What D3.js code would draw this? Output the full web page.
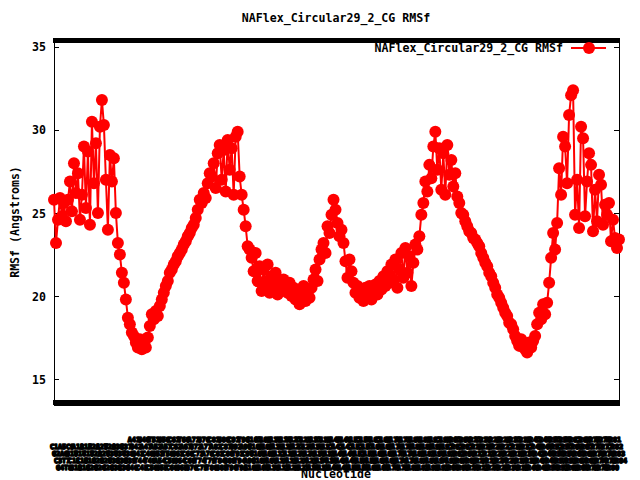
<!DOCTYPE html>
<html>
<head>
<meta charset="utf-8">
<script src="https://cdn.jsdelivr.net/npm/d3@7"></script>
<style>
  html, body { margin: 0; padding: 0; background: #fff; }
  svg { display: block; }
  text { font-family: "DejaVu Sans Mono", "Liberation Mono", monospace; font-weight: bold; fill: #000; }
</style>
</head>
<body>
<svg id="chart" width="640" height="480"></svg>
<script>
// ---------------- data ----------------
const chartTitle = "NAFlex_Circular29_2_CG RMSf";
const seriesName = "NAFlex_Circular29_2_CG RMSf";
const xTitle = "Nucleotide";
const yTitle = "RMSf (Angstroms)";

const sequence = (
  "CGCGAATTCGCGATCGATGCATGCAAGCTTGCATGCCTGCAGGTCGACTCTAGAGGATCCCCGGGTACCGAGCTCGAATTCACTGGCCGTCGTTTTACAA" +
  "CGTCGTGACTGGGAAAACCCTGGCGTTACCCAACTTAATCGCCTTGCAGCACATCCCCCTTTCGCCAGCTGGCGTAATAGCGAAGAGGCCCGCACCGATC" +
  "GCCCTTCCCAACAGTTGCGCAGCCTGAATGGCGAATGGCGCCTGATGCGGTATTTTCTCCTTACGCATCTGTGCGGTATTTCAC").split("");
const nucleotideLabels = sequence.map((b, i) => b + (i + 1));

const rmsf = [
  25.8, 23.2, 24.6, 25.9, 24.8, 25.6, 24.5, 25.8, 26.9, 25.1,
  28.0, 26.2, 27.4, 24.6, 26.1, 29.0, 25.3, 28.7, 24.3, 30.5,
  26.8, 29.2, 25.0, 30.2, 31.8, 30.3, 27.0, 24.0, 28.5, 26.9,
  28.3, 25.0, 23.2, 22.5, 21.4, 20.8, 19.8, 18.7, 18.3, 17.8,
  17.6, 17.2, 16.9, 17.4, 16.8, 17.1, 16.9, 17.5, 18.2, 18.9,
  18.6, 19.1, 18.8, 19.4, 19.8, 20.2, 20.6, 20.9, 21.4, 21.6,
  21.9, 22.1, 22.4, 22.6, 22.8, 23.1, 23.3, 23.6, 23.8, 24.1,
  24.3, 24.7, 25.2, 25.8, 25.6, 26.2, 25.9, 26.8, 27.4, 27.2,
  28.0, 26.5, 28.6, 29.1, 27.0, 28.8, 26.3, 29.4, 27.6, 28.9,
  26.1, 29.6, 29.9, 27.2, 26.1, 25.2, 24.2, 23.0, 22.8, 22.3,
  21.5, 22.6, 20.9, 21.8, 20.3, 21.6, 20.7, 21.9, 20.2, 21.2,
  20.5, 21.4, 20.1, 20.9, 20.4, 21.0, 20.6, 20.2, 20.8, 20.0,
  20.5, 19.8, 20.3, 19.5, 20.1, 20.6, 19.7, 20.2, 19.9, 20.5,
  21.0, 21.6, 20.9, 22.2, 22.8, 23.2, 22.6, 24.2, 23.8, 24.9,
  25.8, 25.2, 24.4, 23.6, 24.0, 23.2, 22.1, 21.1, 22.2, 21.5,
  20.8, 20.2, 20.6, 19.9, 20.4, 19.7, 20.5, 20.0, 20.6, 19.8,
  20.3, 20.7, 20.1, 20.9, 20.4, 21.2, 20.6, 21.5, 20.8, 21.9,
  21.0, 22.2, 20.5, 21.6, 22.6, 21.1, 22.9, 21.4, 22.4, 20.6,
  22.0, 23.1, 22.8, 23.6, 24.9, 25.6, 26.9, 26.3, 27.9, 27.1,
  29.0, 29.9, 27.6, 28.9, 26.4, 28.6, 26.1, 29.1, 27.3, 28.2,
  26.6, 27.4, 26.0, 25.6, 25.0, 24.9, 24.5, 24.2, 23.9, 23.8,
  23.5, 23.4, 23.2, 23.0, 22.6, 22.3, 22.0, 21.8, 21.4, 21.2,
  20.8, 20.5, 20.1, 19.9, 19.6, 19.3, 19.0, 18.8, 18.4, 18.3,
  18.0, 17.6, 17.3, 17.0, 17.4, 17.1, 16.8, 16.6, 17.2, 16.9,
  17.3, 17.6, 18.3, 19.0, 18.6, 19.5, 18.9, 19.6, 20.8, 22.3,
  23.8, 22.8, 24.4, 27.7, 26.1, 29.6, 29.0, 26.8, 30.9, 32.1,
  32.4, 24.9, 27.0, 24.1, 30.2, 29.5, 24.8, 26.9, 28.6, 27.9,
  23.9, 26.4, 24.5, 27.3, 26.7, 24.3, 25.5, 24.9, 25.6, 23.3,
  24.6, 23.5, 22.9, 23.4
];

const yTicks = [15, 20, 25, 30, 35];

// ---------------- layout ----------------
const svg = d3.select("#chart");
const frame = { left: 54, right: 619, top: 38, bottom: 405 };
const red = "#ff0000";

const x = d3.scaleLinear().domain([0, rmsf.length - 1]).range([frame.left, frame.right]);
const y = d3.scaleLinear().domain([13.44, 35.54]).range([frame.bottom, frame.top]);

// title
svg.append("text")
  .attr("x", 336).attr("y", 22)
  .attr("text-anchor", "middle")
  .attr("font-size", 11.6)
  .text(chartTitle);

// x tick marks (bottom and mirrored top), one per nucleotide
const ticksG = svg.append("g").attr("shape-rendering", "crispEdges");
nucleotideLabels.forEach((lab, i) => {
  const xp = Math.round(x(i));
  ticksG.append("line").attr("x1", xp).attr("x2", xp)
    .attr("y1", frame.bottom).attr("y2", frame.bottom - 5)
    .attr("stroke", "#000").attr("stroke-width", 2);
  ticksG.append("line").attr("x1", xp).attr("x2", xp)
    .attr("y1", frame.top).attr("y2", frame.top + 5)
    .attr("stroke", "#000").attr("stroke-width", 2);
});

// x tick labels (dense, overlapping rows)
const rowBase = [442, 449, 456, 463, 470];
const labG = svg.append("g");
nucleotideLabels.forEach((lab, i) => {
  const row = i < 40 ? 1 + (i % 4) : i % 5;
  labG.append("text")
    .attr("x", x(i)).attr("y", rowBase[row])
    .attr("text-anchor", "middle")
    .attr("font-size", 6.8)
    .attr("stroke", "#000")
    .attr("stroke-width", 1.6)
    .attr("stroke-linejoin", "round")
    .text(lab);
});

// y axis ticks + labels (left and mirrored right)
const yG = svg.append("g").attr("shape-rendering", "crispEdges");
yTicks.forEach(t => {
  const yp = Math.round(y(t)) + 0.5;
  yG.append("line").attr("x1", frame.left).attr("x2", frame.left + 5)
    .attr("y1", yp).attr("y2", yp).attr("stroke", "#000");
  yG.append("line").attr("x1", frame.right).attr("x2", frame.right - 5)
    .attr("y1", yp).attr("y2", yp).attr("stroke", "#000");
  svg.append("text")
    .attr("x", 46).attr("y", y(t) + 4.5)
    .attr("text-anchor", "end")
    .attr("font-size", 11.6)
    .text(t);
});

// border
svg.append("rect")
  .attr("x", frame.left + 0.5).attr("y", frame.top + 0.5)
  .attr("width", frame.right - frame.left).attr("height", frame.bottom - frame.top)
  .attr("fill", "none").attr("stroke", "#000").attr("stroke-width", 1)
  .attr("shape-rendering", "crispEdges");

// axis titles
svg.append("text")
  .attr("transform", "translate(19,222) rotate(-90)")
  .attr("text-anchor", "middle")
  .attr("font-size", 11.6)
  .text(yTitle);

svg.append("text")
  .attr("x", 336).attr("y", 478)
  .attr("text-anchor", "middle")
  .attr("font-size", 11.6)
  .text(xTitle);

// series: line + points
const line = d3.line().x((d, i) => x(i)).y(d => y(d));
svg.append("path")
  .datum(rmsf)
  .attr("d", line)
  .attr("fill", "none")
  .attr("stroke", red)
  .attr("stroke-width", 2);

svg.append("g").selectAll("circle")
  .data(rmsf)
  .join("circle")
  .attr("cx", (d, i) => x(i))
  .attr("cy", d => y(d))
  .attr("r", 6)
  .attr("fill", red);

// legend
svg.append("text")
  .attr("x", 563).attr("y", 52)
  .attr("text-anchor", "end")
  .attr("font-size", 11.6)
  .text(seriesName);
svg.append("line")
  .attr("x1", 571).attr("x2", 606).attr("y1", 48).attr("y2", 48)
  .attr("stroke", red).attr("stroke-width", 2);
svg.append("circle")
  .attr("cx", 589).attr("cy", 48).attr("r", 6).attr("fill", red);
</script>
</body>
</html>
